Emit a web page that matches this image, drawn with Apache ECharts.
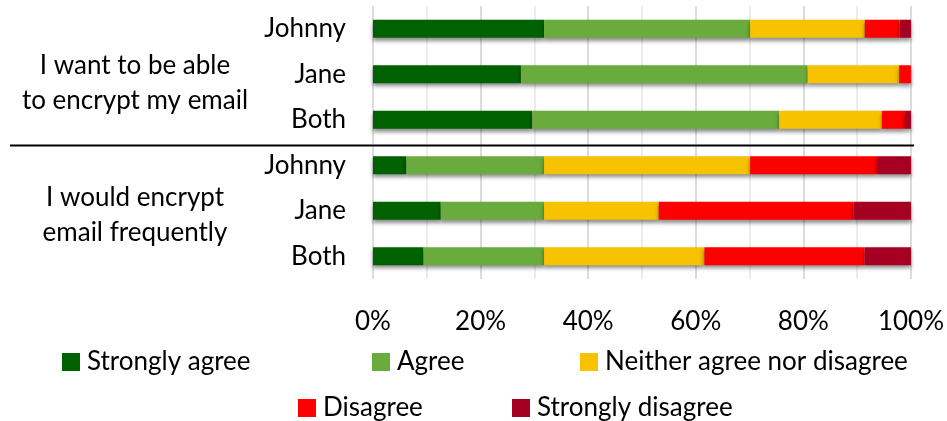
<!DOCTYPE html>
<html>
<head>
<meta charset="utf-8">
<script src="https://cdn.jsdelivr.net/npm/echarts@6/dist/echarts.min.js"></script>
<style>
  html, body { margin: 0; padding: 0; background: #fff; }
  #chart { width: 947px; height: 421px; }
</style>
</head>
<body>
<div id="chart"></div>
<script>
// Survey responses, percent of respondents per row
const rowLabels = ['Johnny', 'Jane', 'Both', 'Johnny', 'Jane', 'Both'];
const groupLabels = ['I want to be able\nto encrypt my email', 'I would encrypt\nemail frequently'];
const stronglyAgree    = [31.8, 27.5, 29.6, 6.2, 12.6, 9.4];
const agree            = [38.3, 53.3, 45.9, 25.6, 19.2, 22.4];
const neither          = [21.3, 17.0, 19.1, 38.3, 21.3, 29.8];
const disagree         = [6.5, 2.2, 4.3, 23.6, 36.2, 29.8];
const stronglyDisagree = [2.1, 0, 1.1, 6.3, 10.7, 8.6];
const xTicks = [0, 20, 40, 60, 80, 100];

const seriesDefs = [
  { name: 'Strongly agree', data: stronglyAgree, color: '#006100' },
  { name: 'Agree', data: agree, color: '#6aab3e' },
  { name: 'Neither agree nor disagree', data: neither, color: '#f7c200' },
  { name: 'Disagree', data: disagree, color: '#ff0000' },
  { name: 'Strongly disagree', data: stronglyDisagree, color: '#a50021' }
];

const FONT = 'Lato, "Open Sans", sans-serif';
const FS = 26;
const chart = echarts.init(document.getElementById('chart'));

// one legend per entry so each sits at its own spot on two rows
const legendSpots = [
  { left: 62, top: 349 }, { left: 372, top: 349 }, { left: 580, top: 349 },
  { left: 298, top: 395 }, { left: 512, top: 395 }
];

chart.setOption({
  animation: false,
  grid: { left: 373, right: 33, top: 6, bottom: 142 },
  xAxis: {
    type: 'value', min: 0, max: 100, interval: 20,
    axisLine: { show: false }, axisTick: { show: false },
    axisLabel: {
      formatter: v => xTicks.includes(v) ? v + '%' : '',
      fontFamily: FONT, fontSize: FS, color: '#000', margin: 30
    },
    splitLine: { show: true, lineStyle: { color: '#d0d0d0', width: 1.5 } },
    minorTick: { show: false, splitNumber: 2 },
    minorSplitLine: { show: true, lineStyle: { color: '#e6e6e6', width: 1.5 } }
  },
  yAxis: {
    type: 'category', inverse: true, data: rowLabels,
    axisLine: { show: false }, axisTick: { show: false },
    axisLabel: { fontFamily: FONT, fontSize: FS, color: '#000', margin: 27 }
  },
  legend: legendSpots.map((p, i) => ({
    left: p.left, top: p.top, orient: 'horizontal', padding: 0,
    data: [seriesDefs[i].name],
    itemWidth: 18, itemHeight: 18, itemGap: 10, icon: 'rect',
    textStyle: { fontFamily: FONT, fontSize: FS, color: '#000', padding: [0, 0, 0, 2] }
  })),
  graphic: [
    {
      type: 'text', x: 135, y: 48,
      style: { text: groupLabels[0], font: FS + 'px ' + FONT, fill: '#000', align: 'center', lineHeight: 35 }
    },
    {
      type: 'text', x: 135, y: 180,
      style: { text: groupLabels[1], font: FS + 'px ' + FONT, fill: '#000', align: 'center', lineHeight: 35 }
    },
    {
      type: 'line', shape: { x1: 10, y1: 145.5, x2: 914, y2: 145.5 },
      style: { stroke: '#000', lineWidth: 2 }, z: 10
    }
  ],
  series: seriesDefs.map(s => ({
    name: s.name, type: 'bar', stack: 'total', data: s.data,
    barWidth: 18,
    itemStyle: {
      color: s.color,
      shadowColor: 'rgba(0,0,0,0.45)', shadowBlur: 4, shadowOffsetY: 3
    }
  }))
});
</script>
</body>
</html>
